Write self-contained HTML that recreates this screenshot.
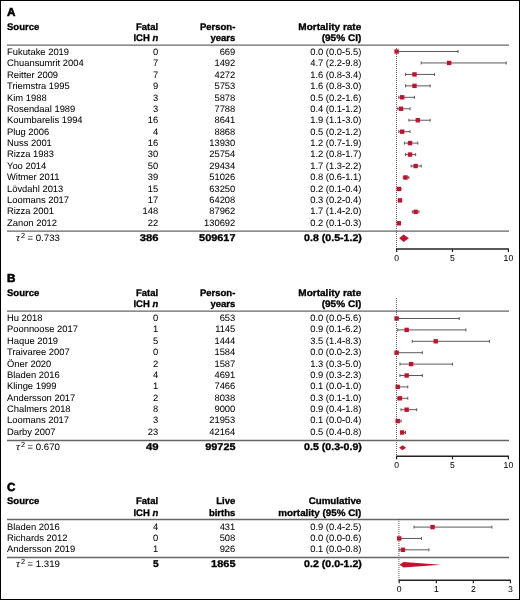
<!DOCTYPE html>
<html><head><meta charset="utf-8"><style>
html,body{margin:0;padding:0;background:#fff;}
#f{position:absolute;left:0;top:0;width:520px;height:600px;box-sizing:border-box;border:1px solid #000;overflow:hidden;}
svg{position:absolute;left:0;top:0;will-change:transform;}
text{text-rendering:geometricPrecision;font-family:"Liberation Sans",sans-serif;fill:#000;stroke:#000;stroke-width:0.04px;}
text[font-weight=bold]{stroke-width:0.32px;}
text.lab{stroke-width:0.6px;}
</style></head><body>
<div id="f"></div>
<svg width="520" height="600" viewBox="0 0 520 600" font-size="9.4">
<text x="6.90" y="16.20" font-weight="bold" font-size="11.7" class="lab">A</text>
<text x="7.00" y="29.60" font-weight="bold" font-size="9.5">Source</text>
<text x="158.20" y="29.60" text-anchor="end" font-weight="bold" font-size="9.5">Fatal</text>
<text x="158.20" y="41.00" text-anchor="end" font-weight="bold" font-size="9.5">ICH <tspan font-style="italic">n</tspan></text>
<text x="235.30" y="29.60" text-anchor="end" font-weight="bold" font-size="9.5">Person-</text>
<text x="235.30" y="41.00" text-anchor="end" font-weight="bold" font-size="9.5">years</text>
<text x="361.30" y="29.60" text-anchor="end" font-weight="bold" font-size="9.5" textLength="63.00" lengthAdjust="spacingAndGlyphs">Mortality rate</text>
<text x="361.30" y="41.00" text-anchor="end" font-weight="bold" font-size="9.5" textLength="39.60" lengthAdjust="spacingAndGlyphs">(95% CI)</text>
<line x1="7" x2="509" y1="45.10" y2="45.10" stroke="#666" stroke-width="1.3"/>
<text x="7.00" y="55.00">Fukutake 2019</text>
<text x="158.20" y="55.00" text-anchor="end">0</text>
<text x="235.30" y="55.00" text-anchor="end">669</text>
<text x="361.30" y="55.00" text-anchor="end">0.0 (0.0-5.5)</text>
<line x1="396.60" x2="458.09" y1="51.50" y2="51.50" stroke="#5a5a5a" stroke-width="1"/>
<line x1="396.60" x2="396.60" y1="50.00" y2="53.00" stroke="#5a5a5a" stroke-width="1"/>
<line x1="458.09" x2="458.09" y1="50.00" y2="53.00" stroke="#5a5a5a" stroke-width="1"/>
<rect x="394.40" y="49.30" width="4.4" height="4.4" fill="#c8102e"/>
<text x="7.00" y="66.38">Chuansumrit 2004</text>
<text x="158.20" y="66.38" text-anchor="end">7</text>
<text x="235.30" y="66.38" text-anchor="end">1492</text>
<text x="361.30" y="66.38" text-anchor="end">4.7 (2.2-9.8)</text>
<line x1="421.20" x2="506.16" y1="62.95" y2="62.95" stroke="#5a5a5a" stroke-width="1"/>
<line x1="421.20" x2="421.20" y1="61.45" y2="64.45" stroke="#5a5a5a" stroke-width="1"/>
<line x1="506.16" x2="506.16" y1="61.45" y2="64.45" stroke="#5a5a5a" stroke-width="1"/>
<rect x="446.95" y="60.75" width="4.4" height="4.4" fill="#c8102e"/>
<text x="7.00" y="77.76">Reitter 2009</text>
<text x="158.20" y="77.76" text-anchor="end">7</text>
<text x="235.30" y="77.76" text-anchor="end">4272</text>
<text x="361.30" y="77.76" text-anchor="end">1.6 (0.8-3.4)</text>
<line x1="405.54" x2="434.61" y1="74.41" y2="74.41" stroke="#5a5a5a" stroke-width="1"/>
<line x1="405.54" x2="405.54" y1="72.91" y2="75.91" stroke="#5a5a5a" stroke-width="1"/>
<line x1="434.61" x2="434.61" y1="72.91" y2="75.91" stroke="#5a5a5a" stroke-width="1"/>
<rect x="412.29" y="72.21" width="4.4" height="4.4" fill="#c8102e"/>
<text x="7.00" y="89.14">Triemstra 1995</text>
<text x="158.20" y="89.14" text-anchor="end">9</text>
<text x="235.30" y="89.14" text-anchor="end">5753</text>
<text x="361.30" y="89.14" text-anchor="end">1.6 (0.8-3.0)</text>
<line x1="405.54" x2="430.14" y1="85.86" y2="85.86" stroke="#5a5a5a" stroke-width="1"/>
<line x1="405.54" x2="405.54" y1="84.36" y2="87.36" stroke="#5a5a5a" stroke-width="1"/>
<line x1="430.14" x2="430.14" y1="84.36" y2="87.36" stroke="#5a5a5a" stroke-width="1"/>
<rect x="412.29" y="83.66" width="4.4" height="4.4" fill="#c8102e"/>
<text x="7.00" y="100.52">Kim 1988</text>
<text x="158.20" y="100.52" text-anchor="end">3</text>
<text x="235.30" y="100.52" text-anchor="end">5878</text>
<text x="361.30" y="100.52" text-anchor="end">0.5 (0.2-1.6)</text>
<line x1="398.84" x2="414.49" y1="97.31" y2="97.31" stroke="#5a5a5a" stroke-width="1"/>
<line x1="398.84" x2="398.84" y1="95.81" y2="98.81" stroke="#5a5a5a" stroke-width="1"/>
<line x1="414.49" x2="414.49" y1="95.81" y2="98.81" stroke="#5a5a5a" stroke-width="1"/>
<rect x="399.99" y="95.11" width="4.4" height="4.4" fill="#c8102e"/>
<text x="7.00" y="111.90">Rosendaal 1989</text>
<text x="158.20" y="111.90" text-anchor="end">3</text>
<text x="235.30" y="111.90" text-anchor="end">7788</text>
<text x="361.30" y="111.90" text-anchor="end">0.4 (0.1-1.2)</text>
<line x1="397.72" x2="410.02" y1="108.77" y2="108.77" stroke="#5a5a5a" stroke-width="1"/>
<line x1="397.72" x2="397.72" y1="107.27" y2="110.27" stroke="#5a5a5a" stroke-width="1"/>
<line x1="410.02" x2="410.02" y1="107.27" y2="110.27" stroke="#5a5a5a" stroke-width="1"/>
<rect x="398.87" y="106.56" width="4.4" height="4.4" fill="#c8102e"/>
<text x="7.00" y="123.28">Koumbarelis 1994</text>
<text x="158.20" y="123.28" text-anchor="end">16</text>
<text x="235.30" y="123.28" text-anchor="end">8641</text>
<text x="361.30" y="123.28" text-anchor="end">1.9 (1.1-3.0)</text>
<line x1="408.90" x2="430.14" y1="120.22" y2="120.22" stroke="#5a5a5a" stroke-width="1"/>
<line x1="408.90" x2="408.90" y1="118.72" y2="121.72" stroke="#5a5a5a" stroke-width="1"/>
<line x1="430.14" x2="430.14" y1="118.72" y2="121.72" stroke="#5a5a5a" stroke-width="1"/>
<rect x="415.64" y="118.02" width="4.4" height="4.4" fill="#c8102e"/>
<text x="7.00" y="134.66">Plug 2006</text>
<text x="158.20" y="134.66" text-anchor="end">4</text>
<text x="235.30" y="134.66" text-anchor="end">8868</text>
<text x="361.30" y="134.66" text-anchor="end">0.5 (0.2-1.2)</text>
<line x1="398.84" x2="410.02" y1="131.67" y2="131.67" stroke="#5a5a5a" stroke-width="1"/>
<line x1="398.84" x2="398.84" y1="130.17" y2="133.17" stroke="#5a5a5a" stroke-width="1"/>
<line x1="410.02" x2="410.02" y1="130.17" y2="133.17" stroke="#5a5a5a" stroke-width="1"/>
<rect x="399.99" y="129.47" width="4.4" height="4.4" fill="#c8102e"/>
<text x="7.00" y="146.04">Nuss 2001</text>
<text x="158.20" y="146.04" text-anchor="end">16</text>
<text x="235.30" y="146.04" text-anchor="end">13930</text>
<text x="361.30" y="146.04" text-anchor="end">1.2 (0.7-1.9)</text>
<line x1="404.43" x2="417.84" y1="143.12" y2="143.12" stroke="#5a5a5a" stroke-width="1"/>
<line x1="404.43" x2="404.43" y1="141.62" y2="144.62" stroke="#5a5a5a" stroke-width="1"/>
<line x1="417.84" x2="417.84" y1="141.62" y2="144.62" stroke="#5a5a5a" stroke-width="1"/>
<rect x="407.82" y="140.92" width="4.4" height="4.4" fill="#c8102e"/>
<text x="7.00" y="157.42">Rizza 1983</text>
<text x="158.20" y="157.42" text-anchor="end">30</text>
<text x="235.30" y="157.42" text-anchor="end">25754</text>
<text x="361.30" y="157.42" text-anchor="end">1.2 (0.8-1.7)</text>
<line x1="405.54" x2="415.61" y1="154.58" y2="154.58" stroke="#5a5a5a" stroke-width="1"/>
<line x1="405.54" x2="405.54" y1="153.08" y2="156.08" stroke="#5a5a5a" stroke-width="1"/>
<line x1="415.61" x2="415.61" y1="153.08" y2="156.08" stroke="#5a5a5a" stroke-width="1"/>
<rect x="407.82" y="152.38" width="4.4" height="4.4" fill="#c8102e"/>
<text x="7.00" y="168.80">Yoo 2014</text>
<text x="158.20" y="168.80" text-anchor="end">50</text>
<text x="235.30" y="168.80" text-anchor="end">29434</text>
<text x="361.30" y="168.80" text-anchor="end">1.7 (1.3-2.2)</text>
<line x1="411.13" x2="421.20" y1="166.03" y2="166.03" stroke="#5a5a5a" stroke-width="1"/>
<line x1="411.13" x2="411.13" y1="164.53" y2="167.53" stroke="#5a5a5a" stroke-width="1"/>
<line x1="421.20" x2="421.20" y1="164.53" y2="167.53" stroke="#5a5a5a" stroke-width="1"/>
<rect x="413.41" y="163.83" width="4.4" height="4.4" fill="#c8102e"/>
<text x="7.00" y="180.18">Witmer 2011</text>
<text x="158.20" y="180.18" text-anchor="end">39</text>
<text x="235.30" y="180.18" text-anchor="end">51026</text>
<text x="361.30" y="180.18" text-anchor="end">0.8 (0.6-1.1)</text>
<line x1="403.31" x2="408.90" y1="177.48" y2="177.48" stroke="#5a5a5a" stroke-width="1"/>
<line x1="403.31" x2="403.31" y1="175.98" y2="178.98" stroke="#5a5a5a" stroke-width="1"/>
<line x1="408.90" x2="408.90" y1="175.98" y2="178.98" stroke="#5a5a5a" stroke-width="1"/>
<rect x="403.34" y="175.28" width="4.4" height="4.4" fill="#c8102e"/>
<text x="7.00" y="191.56">Lövdahl 2013</text>
<text x="158.20" y="191.56" text-anchor="end">15</text>
<text x="235.30" y="191.56" text-anchor="end">63250</text>
<text x="361.30" y="191.56" text-anchor="end">0.2 (0.1-0.4)</text>
<line x1="397.72" x2="401.07" y1="188.94" y2="188.94" stroke="#5a5a5a" stroke-width="1"/>
<line x1="397.72" x2="397.72" y1="187.44" y2="190.44" stroke="#5a5a5a" stroke-width="1"/>
<line x1="401.07" x2="401.07" y1="187.44" y2="190.44" stroke="#5a5a5a" stroke-width="1"/>
<rect x="396.64" y="186.74" width="4.4" height="4.4" fill="#c8102e"/>
<text x="7.00" y="202.94">Loomans 2017</text>
<text x="158.20" y="202.94" text-anchor="end">17</text>
<text x="235.30" y="202.94" text-anchor="end">64208</text>
<text x="361.30" y="202.94" text-anchor="end">0.3 (0.2-0.4)</text>
<line x1="398.84" x2="401.07" y1="200.39" y2="200.39" stroke="#5a5a5a" stroke-width="1"/>
<line x1="398.84" x2="398.84" y1="198.89" y2="201.89" stroke="#5a5a5a" stroke-width="1"/>
<line x1="401.07" x2="401.07" y1="198.89" y2="201.89" stroke="#5a5a5a" stroke-width="1"/>
<rect x="397.75" y="198.19" width="4.4" height="4.4" fill="#c8102e"/>
<text x="7.00" y="214.32">Rizza 2001</text>
<text x="158.20" y="214.32" text-anchor="end">148</text>
<text x="235.30" y="214.32" text-anchor="end">87962</text>
<text x="361.30" y="214.32" text-anchor="end">1.7 (1.4-2.0)</text>
<line x1="412.25" x2="418.96" y1="211.84" y2="211.84" stroke="#5a5a5a" stroke-width="1"/>
<line x1="412.25" x2="412.25" y1="210.34" y2="213.34" stroke="#5a5a5a" stroke-width="1"/>
<line x1="418.96" x2="418.96" y1="210.34" y2="213.34" stroke="#5a5a5a" stroke-width="1"/>
<rect x="413.41" y="209.64" width="4.4" height="4.4" fill="#c8102e"/>
<text x="7.00" y="225.70">Zanon 2012</text>
<text x="158.20" y="225.70" text-anchor="end">22</text>
<text x="235.30" y="225.70" text-anchor="end">130692</text>
<text x="361.30" y="225.70" text-anchor="end">0.2 (0.1-0.3)</text>
<line x1="397.72" x2="399.95" y1="223.29" y2="223.29" stroke="#5a5a5a" stroke-width="1"/>
<line x1="397.72" x2="397.72" y1="221.79" y2="224.79" stroke="#5a5a5a" stroke-width="1"/>
<line x1="399.95" x2="399.95" y1="221.79" y2="224.79" stroke="#5a5a5a" stroke-width="1"/>
<rect x="396.64" y="221.09" width="4.4" height="4.4" fill="#c8102e"/>
<line x1="396.50" x2="396.50" y1="48.00" y2="249.00" stroke="#505050" stroke-width="0.9" stroke-dasharray="1 1"/>
<line x1="7" x2="509" y1="231.05" y2="231.05" stroke="#666" stroke-width="1.3"/>
<text x="15.90" y="240.55" font-size="11.0" style="font-family:'Liberation Serif',serif;font-style:italic">τ</text>
<text x="20.90" y="237.65" font-size="7.4">2</text>
<text x="27.40" y="240.55">=</text>
<text x="35.70" y="240.55" textLength="24.20" lengthAdjust="spacingAndGlyphs">0.733</text>
<text x="158.60" y="240.55" text-anchor="end" font-weight="bold" font-size="9.8" textLength="18.80" lengthAdjust="spacingAndGlyphs">386</text>
<text x="235.50" y="240.55" text-anchor="end" font-weight="bold" font-size="9.8" textLength="36.40" lengthAdjust="spacingAndGlyphs">509617</text>
<text x="361.90" y="240.55" text-anchor="end" font-weight="bold" font-size="9.8" textLength="57.80" lengthAdjust="spacingAndGlyphs">0.8 (0.5-1.2)</text>
<polygon points="399.20,238.25 403.60,234.50 408.90,238.25 403.60,242.00" fill="#c8102e"/>
<line x1="396.10" x2="508.90" y1="249.00" y2="249.00" stroke="#222" stroke-width="1.5"/>
<line x1="396.60" x2="396.60" y1="249.00" y2="252.00" stroke="#222" stroke-width="1.2"/>
<text x="396.60" y="260.80" text-anchor="middle" font-size="8.6">0</text>
<line x1="452.50" x2="452.50" y1="249.00" y2="252.00" stroke="#222" stroke-width="1.2"/>
<text x="452.50" y="260.80" text-anchor="middle" font-size="8.6">5</text>
<line x1="508.40" x2="508.40" y1="249.00" y2="252.00" stroke="#222" stroke-width="1.2"/>
<text x="508.40" y="260.80" text-anchor="middle" font-size="8.6">10</text>
<text x="6.90" y="282.20" font-weight="bold" font-size="11.7" class="lab">B</text>
<text x="7.00" y="295.60" font-weight="bold" font-size="9.5">Source</text>
<text x="158.20" y="295.60" text-anchor="end" font-weight="bold" font-size="9.5">Fatal</text>
<text x="158.20" y="307.00" text-anchor="end" font-weight="bold" font-size="9.5">ICH <tspan font-style="italic">n</tspan></text>
<text x="235.30" y="295.60" text-anchor="end" font-weight="bold" font-size="9.5">Person-</text>
<text x="235.30" y="307.00" text-anchor="end" font-weight="bold" font-size="9.5">years</text>
<text x="361.30" y="295.60" text-anchor="end" font-weight="bold" font-size="9.5" textLength="63.00" lengthAdjust="spacingAndGlyphs">Mortality rate</text>
<text x="361.30" y="307.00" text-anchor="end" font-weight="bold" font-size="9.5" textLength="39.60" lengthAdjust="spacingAndGlyphs">(95% CI)</text>
<line x1="7" x2="509" y1="311.10" y2="311.10" stroke="#666" stroke-width="1.3"/>
<text x="7.00" y="321.00">Hu 2018</text>
<text x="158.20" y="321.00" text-anchor="end">0</text>
<text x="235.30" y="321.00" text-anchor="end">653</text>
<text x="361.30" y="321.00" text-anchor="end">0.0 (0.0-5.6)</text>
<line x1="396.60" x2="459.21" y1="318.50" y2="318.50" stroke="#5a5a5a" stroke-width="1"/>
<line x1="396.60" x2="396.60" y1="317.00" y2="320.00" stroke="#5a5a5a" stroke-width="1"/>
<line x1="459.21" x2="459.21" y1="317.00" y2="320.00" stroke="#5a5a5a" stroke-width="1"/>
<rect x="394.40" y="316.30" width="4.4" height="4.4" fill="#c8102e"/>
<text x="7.00" y="332.38">Poonnoose 2017</text>
<text x="158.20" y="332.38" text-anchor="end">1</text>
<text x="235.30" y="332.38" text-anchor="end">1145</text>
<text x="361.30" y="332.38" text-anchor="end">0.9 (0.1-6.2)</text>
<line x1="397.72" x2="465.92" y1="329.90" y2="329.90" stroke="#5a5a5a" stroke-width="1"/>
<line x1="397.72" x2="397.72" y1="328.40" y2="331.40" stroke="#5a5a5a" stroke-width="1"/>
<line x1="465.92" x2="465.92" y1="328.40" y2="331.40" stroke="#5a5a5a" stroke-width="1"/>
<rect x="404.46" y="327.70" width="4.4" height="4.4" fill="#c8102e"/>
<text x="7.00" y="343.76">Haque 2019</text>
<text x="158.20" y="343.76" text-anchor="end">5</text>
<text x="235.30" y="343.76" text-anchor="end">1444</text>
<text x="361.30" y="343.76" text-anchor="end">3.5 (1.4-8.3)</text>
<line x1="412.25" x2="489.39" y1="341.30" y2="341.30" stroke="#5a5a5a" stroke-width="1"/>
<line x1="412.25" x2="412.25" y1="339.80" y2="342.80" stroke="#5a5a5a" stroke-width="1"/>
<line x1="489.39" x2="489.39" y1="339.80" y2="342.80" stroke="#5a5a5a" stroke-width="1"/>
<rect x="433.53" y="339.10" width="4.4" height="4.4" fill="#c8102e"/>
<text x="7.00" y="355.14">Traivaree 2007</text>
<text x="158.20" y="355.14" text-anchor="end">0</text>
<text x="235.30" y="355.14" text-anchor="end">1584</text>
<text x="361.30" y="355.14" text-anchor="end">0.0 (0.0-2.3)</text>
<line x1="396.60" x2="422.31" y1="352.70" y2="352.70" stroke="#5a5a5a" stroke-width="1"/>
<line x1="396.60" x2="396.60" y1="351.20" y2="354.20" stroke="#5a5a5a" stroke-width="1"/>
<line x1="422.31" x2="422.31" y1="351.20" y2="354.20" stroke="#5a5a5a" stroke-width="1"/>
<rect x="394.40" y="350.50" width="4.4" height="4.4" fill="#c8102e"/>
<text x="7.00" y="366.52">Öner 2020</text>
<text x="158.20" y="366.52" text-anchor="end">2</text>
<text x="235.30" y="366.52" text-anchor="end">1587</text>
<text x="361.30" y="366.52" text-anchor="end">1.3 (0.3-5.0)</text>
<line x1="399.95" x2="452.50" y1="364.10" y2="364.10" stroke="#5a5a5a" stroke-width="1"/>
<line x1="399.95" x2="399.95" y1="362.60" y2="365.60" stroke="#5a5a5a" stroke-width="1"/>
<line x1="452.50" x2="452.50" y1="362.60" y2="365.60" stroke="#5a5a5a" stroke-width="1"/>
<rect x="408.93" y="361.90" width="4.4" height="4.4" fill="#c8102e"/>
<text x="7.00" y="377.90">Bladen 2016</text>
<text x="158.20" y="377.90" text-anchor="end">4</text>
<text x="235.30" y="377.90" text-anchor="end">4691</text>
<text x="361.30" y="377.90" text-anchor="end">0.9 (0.3-2.3)</text>
<line x1="399.95" x2="422.31" y1="375.50" y2="375.50" stroke="#5a5a5a" stroke-width="1"/>
<line x1="399.95" x2="399.95" y1="374.00" y2="377.00" stroke="#5a5a5a" stroke-width="1"/>
<line x1="422.31" x2="422.31" y1="374.00" y2="377.00" stroke="#5a5a5a" stroke-width="1"/>
<rect x="404.46" y="373.30" width="4.4" height="4.4" fill="#c8102e"/>
<text x="7.00" y="389.28">Klinge 1999</text>
<text x="158.20" y="389.28" text-anchor="end">1</text>
<text x="235.30" y="389.28" text-anchor="end">7466</text>
<text x="361.30" y="389.28" text-anchor="end">0.1 (0.0-1.0)</text>
<line x1="396.60" x2="407.78" y1="386.90" y2="386.90" stroke="#5a5a5a" stroke-width="1"/>
<line x1="396.60" x2="396.60" y1="385.40" y2="388.40" stroke="#5a5a5a" stroke-width="1"/>
<line x1="407.78" x2="407.78" y1="385.40" y2="388.40" stroke="#5a5a5a" stroke-width="1"/>
<rect x="395.52" y="384.70" width="4.4" height="4.4" fill="#c8102e"/>
<text x="7.00" y="400.66">Andersson 2017</text>
<text x="158.20" y="400.66" text-anchor="end">2</text>
<text x="235.30" y="400.66" text-anchor="end">8038</text>
<text x="361.30" y="400.66" text-anchor="end">0.3 (0.1-1.0)</text>
<line x1="397.72" x2="407.78" y1="398.30" y2="398.30" stroke="#5a5a5a" stroke-width="1"/>
<line x1="397.72" x2="397.72" y1="396.80" y2="399.80" stroke="#5a5a5a" stroke-width="1"/>
<line x1="407.78" x2="407.78" y1="396.80" y2="399.80" stroke="#5a5a5a" stroke-width="1"/>
<rect x="397.75" y="396.10" width="4.4" height="4.4" fill="#c8102e"/>
<text x="7.00" y="412.04">Chalmers 2018</text>
<text x="158.20" y="412.04" text-anchor="end">8</text>
<text x="235.30" y="412.04" text-anchor="end">9000</text>
<text x="361.30" y="412.04" text-anchor="end">0.9 (0.4-1.8)</text>
<line x1="401.07" x2="416.72" y1="409.70" y2="409.70" stroke="#5a5a5a" stroke-width="1"/>
<line x1="401.07" x2="401.07" y1="408.20" y2="411.20" stroke="#5a5a5a" stroke-width="1"/>
<line x1="416.72" x2="416.72" y1="408.20" y2="411.20" stroke="#5a5a5a" stroke-width="1"/>
<rect x="404.46" y="407.50" width="4.4" height="4.4" fill="#c8102e"/>
<text x="7.00" y="423.42">Loomans 2017</text>
<text x="158.20" y="423.42" text-anchor="end">3</text>
<text x="235.30" y="423.42" text-anchor="end">21953</text>
<text x="361.30" y="423.42" text-anchor="end">0.1 (0.0-0.4)</text>
<line x1="396.60" x2="401.07" y1="421.10" y2="421.10" stroke="#5a5a5a" stroke-width="1"/>
<line x1="396.60" x2="396.60" y1="419.60" y2="422.60" stroke="#5a5a5a" stroke-width="1"/>
<line x1="401.07" x2="401.07" y1="419.60" y2="422.60" stroke="#5a5a5a" stroke-width="1"/>
<rect x="395.52" y="418.90" width="4.4" height="4.4" fill="#c8102e"/>
<text x="7.00" y="434.80">Darby 2007</text>
<text x="158.20" y="434.80" text-anchor="end">23</text>
<text x="235.30" y="434.80" text-anchor="end">42164</text>
<text x="361.30" y="434.80" text-anchor="end">0.5 (0.4-0.8)</text>
<line x1="401.07" x2="405.54" y1="432.50" y2="432.50" stroke="#5a5a5a" stroke-width="1"/>
<line x1="401.07" x2="401.07" y1="431.00" y2="434.00" stroke="#5a5a5a" stroke-width="1"/>
<line x1="405.54" x2="405.54" y1="431.00" y2="434.00" stroke="#5a5a5a" stroke-width="1"/>
<rect x="399.99" y="430.30" width="4.4" height="4.4" fill="#c8102e"/>
<line x1="396.50" x2="396.50" y1="298.00" y2="456.30" stroke="#505050" stroke-width="0.9" stroke-dasharray="1 1"/>
<line x1="7" x2="509" y1="440.50" y2="440.50" stroke="#666" stroke-width="1.3"/>
<text x="15.90" y="450.00" font-size="11.0" style="font-family:'Liberation Serif',serif;font-style:italic">τ</text>
<text x="20.90" y="447.10" font-size="7.4">2</text>
<text x="27.40" y="450.00">=</text>
<text x="35.70" y="450.00" textLength="24.20" lengthAdjust="spacingAndGlyphs">0.670</text>
<text x="158.60" y="450.00" text-anchor="end" font-weight="bold" font-size="9.8" textLength="12.60" lengthAdjust="spacingAndGlyphs">49</text>
<text x="235.50" y="450.00" text-anchor="end" font-weight="bold" font-size="9.8" textLength="30.20" lengthAdjust="spacingAndGlyphs">99725</text>
<text x="361.90" y="450.00" text-anchor="end" font-weight="bold" font-size="9.8" textLength="57.80" lengthAdjust="spacingAndGlyphs">0.5 (0.3-0.9)</text>
<polygon points="399.20,447.70 402.60,445.25 406.00,447.70 402.60,450.15" fill="#c8102e"/>
<line x1="396.10" x2="508.90" y1="456.30" y2="456.30" stroke="#222" stroke-width="1.5"/>
<line x1="396.60" x2="396.60" y1="456.30" y2="459.30" stroke="#222" stroke-width="1.2"/>
<text x="396.60" y="468.10" text-anchor="middle" font-size="8.6">0</text>
<line x1="452.50" x2="452.50" y1="456.30" y2="459.30" stroke="#222" stroke-width="1.2"/>
<text x="452.50" y="468.10" text-anchor="middle" font-size="8.6">5</text>
<line x1="508.40" x2="508.40" y1="456.30" y2="459.30" stroke="#222" stroke-width="1.2"/>
<text x="508.40" y="468.10" text-anchor="middle" font-size="8.6">10</text>
<text x="6.90" y="490.80" font-weight="bold" font-size="11.7" class="lab">C</text>
<text x="7.00" y="504.20" font-weight="bold" font-size="9.5">Source</text>
<text x="158.20" y="504.20" text-anchor="end" font-weight="bold" font-size="9.5">Fatal</text>
<text x="158.20" y="515.60" text-anchor="end" font-weight="bold" font-size="9.5">ICH <tspan font-style="italic">n</tspan></text>
<text x="235.30" y="504.20" text-anchor="end" font-weight="bold" font-size="9.5">Live</text>
<text x="235.30" y="515.60" text-anchor="end" font-weight="bold" font-size="9.5">births</text>
<text x="361.30" y="504.20" text-anchor="end" font-weight="bold" font-size="9.5" textLength="52.60" lengthAdjust="spacingAndGlyphs">Cumulative</text>
<text x="361.30" y="515.60" text-anchor="end" font-weight="bold" font-size="9.5" textLength="83.00" lengthAdjust="spacingAndGlyphs">mortality (95% CI)</text>
<line x1="7" x2="509" y1="519.50" y2="519.50" stroke="#666" stroke-width="1.3"/>
<text x="7.00" y="529.60">Bladen 2016</text>
<text x="158.20" y="529.60" text-anchor="end">4</text>
<text x="235.30" y="529.60" text-anchor="end">431</text>
<text x="361.30" y="529.60" text-anchor="end">0.9 (0.4-2.5)</text>
<line x1="414.03" x2="491.90" y1="527.10" y2="527.10" stroke="#5a5a5a" stroke-width="1"/>
<line x1="414.03" x2="414.03" y1="525.60" y2="528.60" stroke="#5a5a5a" stroke-width="1"/>
<line x1="491.90" x2="491.90" y1="525.60" y2="528.60" stroke="#5a5a5a" stroke-width="1"/>
<rect x="430.37" y="524.90" width="4.4" height="4.4" fill="#c8102e"/>
<text x="7.00" y="540.98">Richards 2012</text>
<text x="158.20" y="540.98" text-anchor="end">0</text>
<text x="235.30" y="540.98" text-anchor="end">508</text>
<text x="361.30" y="540.98" text-anchor="end">0.0 (0.0-0.6)</text>
<line x1="399.20" x2="421.45" y1="538.45" y2="538.45" stroke="#5a5a5a" stroke-width="1"/>
<line x1="399.20" x2="399.20" y1="536.95" y2="539.95" stroke="#5a5a5a" stroke-width="1"/>
<line x1="421.45" x2="421.45" y1="536.95" y2="539.95" stroke="#5a5a5a" stroke-width="1"/>
<rect x="397.00" y="536.25" width="4.4" height="4.4" fill="#c8102e"/>
<text x="7.00" y="552.36">Andersson 2019</text>
<text x="158.20" y="552.36" text-anchor="end">1</text>
<text x="235.30" y="552.36" text-anchor="end">926</text>
<text x="361.30" y="552.36" text-anchor="end">0.1 (0.0-0.8)</text>
<line x1="399.20" x2="428.86" y1="549.80" y2="549.80" stroke="#5a5a5a" stroke-width="1"/>
<line x1="399.20" x2="399.20" y1="548.30" y2="551.30" stroke="#5a5a5a" stroke-width="1"/>
<line x1="428.86" x2="428.86" y1="548.30" y2="551.30" stroke="#5a5a5a" stroke-width="1"/>
<rect x="400.71" y="547.60" width="4.4" height="4.4" fill="#c8102e"/>
<line x1="398.90" x2="398.90" y1="519.00" y2="580.30" stroke="#505050" stroke-width="0.9" stroke-dasharray="1 1"/>
<line x1="7" x2="509" y1="557.50" y2="557.50" stroke="#666" stroke-width="1.3"/>
<text x="15.90" y="567.00" font-size="11.0" style="font-family:'Liberation Serif',serif;font-style:italic">τ</text>
<text x="20.90" y="564.10" font-size="7.4">2</text>
<text x="27.40" y="567.00">=</text>
<text x="35.70" y="567.00" textLength="24.20" lengthAdjust="spacingAndGlyphs">1.319</text>
<text x="158.60" y="567.00" text-anchor="end" font-weight="bold" font-size="9.8" textLength="5.70" lengthAdjust="spacingAndGlyphs">5</text>
<text x="235.50" y="567.00" text-anchor="end" font-weight="bold" font-size="9.8" textLength="24.40" lengthAdjust="spacingAndGlyphs">1865</text>
<text x="361.90" y="567.00" text-anchor="end" font-weight="bold" font-size="9.8" textLength="57.80" lengthAdjust="spacingAndGlyphs">0.2 (0.0-1.2)</text>
<polygon points="399.50,564.70 403.50,561.90 441.00,564.70 403.50,567.50" fill="#c8102e"/>
<line x1="398.70" x2="510.94" y1="580.30" y2="580.30" stroke="#222" stroke-width="1.5"/>
<line x1="399.20" x2="399.20" y1="580.30" y2="583.30" stroke="#222" stroke-width="1.2"/>
<text x="399.20" y="592.10" text-anchor="middle" font-size="8.6">0</text>
<line x1="436.28" x2="436.28" y1="580.30" y2="583.30" stroke="#222" stroke-width="1.2"/>
<text x="436.28" y="592.10" text-anchor="middle" font-size="8.6">1</text>
<line x1="473.36" x2="473.36" y1="580.30" y2="583.30" stroke="#222" stroke-width="1.2"/>
<text x="473.36" y="592.10" text-anchor="middle" font-size="8.6">2</text>
<line x1="510.44" x2="510.44" y1="580.30" y2="583.30" stroke="#222" stroke-width="1.2"/>
<text x="510.44" y="592.10" text-anchor="middle" font-size="8.6">3</text>
</svg>
</body></html>
